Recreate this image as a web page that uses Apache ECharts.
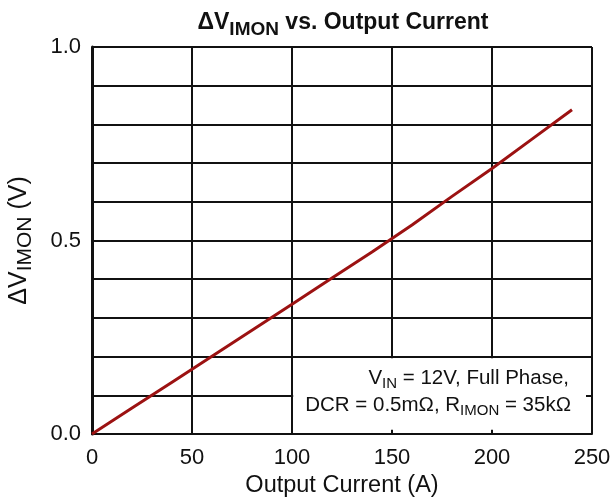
<!DOCTYPE html>
<html>
<head>
<meta charset="utf-8">
<script src="https://cdn.jsdelivr.net/npm/echarts@6/dist/echarts.min.js"></script>
<style>
  html, body { margin: 0; padding: 0; background: #fff; }
  #chart { width: 613px; height: 500px; }
</style>
</head>
<body>
<div id="chart"></div>
<script>
// Output current (A) and the measured IMON voltage swing (V)
const currentA = [0, 20, 40, 60, 80, 100, 120, 140, 160, 180, 200, 220, 240];
const deltaV   = [0, 0.067, 0.134, 0.201, 0.268, 0.335, 0.403, 0.470, 0.540, 0.614, 0.686, 0.762, 0.838];

// Axis ticks
const xTicks = [0, 50, 100, 150, 200, 250];
const yLabelValues = [0.0, 0.5, 1.0];

// Test-condition note shown in the lower right, one entry per line
const noteLines = [
  '{m|V}{s|IN}{m| = 12V, Full Phase,}',
  '{m|DCR = 0.5mΩ, R}{s|IMON}{m| = 35kΩ}'
];

const FONT = '"Liberation Sans", Arial, sans-serif';
const INK = '#111';

const chart = echarts.init(document.getElementById('chart'), null, { renderer: 'canvas' });

const noteRich = {
  m: { fontSize: 20.5, fill: INK, fontFamily: FONT, lineHeight: 24 },
  s: { fontSize: 15, fill: INK, fontFamily: FONT, lineHeight: 24, padding: [10, 0, 0, 0] }
};

const option = {
  animation: false,
  backgroundColor: '#fff',
  title: {
    text: '{m|ΔV}{s|IMON}{m| vs. Output Current}',
    left: 338,
    textAlign: 'center',
    top: 2,
    textStyle: {
      fontFamily: FONT,
      rich: {
        m: { fontSize: 23, fontWeight: 'bold', color: INK, fontFamily: FONT },
        s: { fontSize: 19, fontWeight: 'bold', color: INK, fontFamily: FONT, padding: [13, 0, 0, 0] }
      }
    }
  },
  grid: { left: 92, right: 21, top: 47, bottom: 66, outerBoundsMode: 'none', containLabel: false },
  xAxis: {
    type: 'value',
    min: xTicks[0],
    max: xTicks[xTicks.length - 1],
    interval: xTicks[1] - xTicks[0],
    name: 'Output Current (A)',
    nameLocation: 'middle',
    nameGap: 38,
    nameTextStyle: { fontFamily: FONT, fontSize: 23.5, color: INK },
    axisLine: { show: true, lineStyle: { color: INK, width: 2 } },
    axisTick: { show: false },
    axisLabel: { fontFamily: FONT, fontSize: 22, color: INK, margin: 13 },
    splitLine: { show: true, lineStyle: { color: INK, width: 2 } }
  },
  yAxis: {
    type: 'value',
    min: 0,
    max: 1,
    interval: 0.1,
    name: '{m|ΔV}{s|IMON}{m| (V)}',
    nameLocation: 'middle',
    nameGap: 56,
    nameTextStyle: {
      fontFamily: FONT,
      rich: {
        m: { fontSize: 25, color: INK, fontFamily: FONT },
        s: { fontSize: 21, color: INK, fontFamily: FONT, padding: [12, 0, 0, 0] }
      }
    },
    axisLine: { show: true, lineStyle: { color: INK, width: 3 } },
    axisTick: { show: false },
    axisLabel: {
      fontFamily: FONT, fontSize: 22, color: INK, margin: 11,
      formatter: function (v) {
        const hit = yLabelValues.find(function (t) { return Math.abs(t - v) < 1e-6; });
        return hit === undefined ? '' : hit.toFixed(1);
      }
    },
    splitLine: { show: true, lineStyle: { color: INK, width: 2 } }
  },
  series: [{
    type: 'line',
    data: currentA.map(function (a, i) { return [a, deltaV[i]]; }),
    showSymbol: false,
    symbol: 'none',
    lineStyle: { color: '#9c1212', width: 3 },
    z: 5,
    // plain white panel behind the note, hiding the grid there
    markArea: {
      silent: true,
      itemStyle: { color: '#fff', borderWidth: 0 },
      label: { show: false },
      data: [[{ xAxis: 100.6, yAxis: 0.011 }, { xAxis: 247, yAxis: 0.196 }]]
    }
  }],
  graphic: noteLines.map(function (line, i) {
    return {
      type: 'text',
      right: 44 - i * 2,
      top: 366 + i * 27,
      z: 100,
      style: { text: line, align: 'right', fontFamily: FONT, rich: noteRich }
    };
  })
};

chart.setOption(option);
</script>
</body>
</html>
